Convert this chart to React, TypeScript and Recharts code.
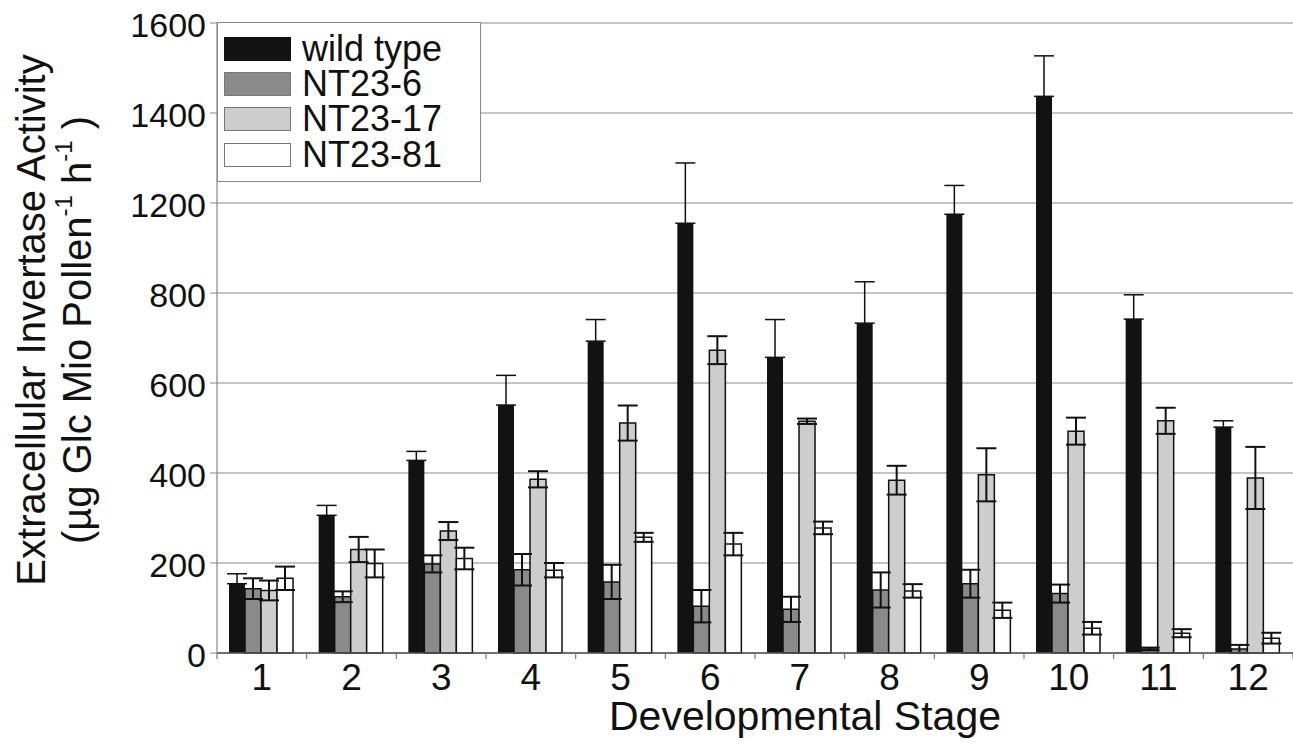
import { Bar, BarChart, CartesianGrid, ErrorBar, Legend, XAxis, YAxis } from 'recharts'

const stages = ['1', '2', '3', '4', '5', '6', '7', '8', '9', '10', '11', '12']
const wildType = [154, 306, 428, 551, 693, 955, 657, 733, 975, 1237, 742, 502]
const wildTypeErr = [22, 22, 20, 66, 48, 134, 84, 92, 64, 90, 54, 14]
const nt236 = [143, 125, 198, 185, 158, 104, 97, 140, 154, 132, 9, 9]
const nt236Err = [23, 12, 19, 35, 38, 36, 28, 39, 31, 20, 3, 9]
const nt2317 = [139, 230, 271, 386, 511, 673, 515, 384, 396, 493, 516, 389]
const nt2317Err = [22, 28, 20, 18, 39, 31, 6, 32, 59, 30, 29, 69]
const nt2381 = [166, 199, 210, 184, 257, 242, 278, 138, 95, 55, 44, 33]
const nt2381Err = [26, 31, 24, 16, 10, 25, 14, 15, 17, 14, 9, 12]

// gridlines are evenly spaced, but the printed labels skip 1000
const yTicks = [0, 200, 400, 600, 800, 1000, 1200, 1400]
const yTickLabels = ['0', '200', '400', '600', '800', '1200', '1400', '1600']

const font = '"Liberation Sans", Arial, Helvetica, sans-serif'

const series = [
  { key: 'wt', err: 'wtErr', name: 'wild type', fill: '#121212', stroke: 'none' },
  { key: 'nt6', err: 'nt6Err', name: 'NT23-6', fill: '#8a8a8a', stroke: '#111' },
  { key: 'nt17', err: 'nt17Err', name: 'NT23-17', fill: '#cdcdcd', stroke: '#111' },
  { key: 'nt81', err: 'nt81Err', name: 'NT23-81', fill: '#ffffff', stroke: '#111' },
]

const data = stages.map((stage, i) => ({
  stage,
  wt: wildType[i],
  // only the upper whisker shows above the black bar
  wtErr: [0, wildTypeErr[i]],
  nt6: nt236[i],
  nt6Err: nt236Err[i],
  nt17: nt2317[i],
  nt17Err: nt2317Err[i],
  nt81: nt2381[i],
  nt81Err: nt2381Err[i],
}))

function StageTick(props: any) {
  const { x, y, payload, index, visibleTicksCount } = props
  const half = payload.offset || 44.8
  return (
    <g>
      <line x1={x - half} x2={x - half} y1={y} y2={y + 6} stroke='#777' strokeWidth={1.2} />
      {index === visibleTicksCount - 1 && (
        <line x1={x + half} x2={x + half} y1={y} y2={y + 6} stroke='#777' strokeWidth={1.2} />
      )}
      <text x={x} y={y + 10} dy='0.72em' textAnchor='middle' fontSize={37} fontFamily={font} fill='#111'>
        {payload.value}
      </text>
    </g>
  )
}

function ValueTick(props: any) {
  const { x, y, payload } = props
  const label = yTickLabels[yTicks.indexOf(payload.value)]
  return (
    <text x={x} y={y + 2} dy='0.355em' textAnchor='end' fontSize={34} fontFamily={font} fill='#111'>
      {label}
    </text>
  )
}

function YTitle(props: any) {
  const { viewBox } = props
  const cy = viewBox.y + viewBox.height / 2 - 18
  return (
    <g fontFamily={font} fill='#111' fontSize={40}>
      <text transform={`translate(31, ${cy}) rotate(-90)`} textAnchor='middle' dominantBaseline='central'>
        Extracellular Invertase Activity
      </text>
      <text transform={`translate(77, ${cy + 10}) rotate(-90)`} textAnchor='middle' dominantBaseline='central'>
        (µg Glc Mio Pollen
        <tspan dy={-14} fontSize={24}>-1</tspan>
        <tspan dy={14}> h</tspan>
        <tspan dy={-14} fontSize={24}>-1</tspan>
        <tspan dy={14}> )</tspan>
      </text>
    </g>
  )
}

function XTitle(props: any) {
  const { viewBox } = props
  return (
    <text
      x={viewBox.x + viewBox.width / 2 + 50}
      y={716}
      textAnchor='middle'
      dominantBaseline='central'
      fontSize={41}
      fontFamily={font}
      fill='#111'
    >
      Developmental Stage
    </text>
  )
}

function LegendBox(props: any) {
  const items = [...(props.payload ?? [])].sort(
    (a: any, b: any) =>
      series.findIndex((s) => s.name === a.value) - series.findIndex((s) => s.name === b.value),
  )
  return (
    <div
      style={{
        width: 264,
        height: 160,
        boxSizing: 'border-box',
        border: '1.5px solid #888',
        background: '#fff',
        padding: '8px 0 0 6px',
      }}
    >
      {items.map((item: any) => {
        const s = series.find((d) => d.name === item.value) ?? series[0]
        return (
          <div key={s.key} style={{ display: 'flex', alignItems: 'center', height: 35.3 }}>
            <span
              style={{
                display: 'inline-block',
                width: 67,
                height: 24,
                boxSizing: 'border-box',
                background: s.fill,
                border: s.stroke === 'none' ? 'none' : '1.5px solid #777',
                marginRight: 11,
              }}
            />
            <span
              style={{
                display: 'block',
                height: 34,
                fontSize: 36,
                lineHeight: '34px',
                fontFamily: font,
                color: '#111',
                whiteSpace: 'nowrap',
              }}
            >
              {item.value}
            </span>
          </div>
        )
      })}
    </div>
  )
}

export default function App() {
  return (
    <div style={{ position: 'absolute', left: 0, top: 0, background: '#fff' }}>
      <BarChart
        width={1293}
        height={745}
        data={data}
        margin={{ top: 23, right: 0, left: 0, bottom: 0 }}
        barCategoryGap='13.4%'
        barGap={0}
      >
        <CartesianGrid vertical={false} stroke='#8a8a8a' strokeWidth={1.2} />
        <XAxis
          dataKey='stage'
          height={92}
          interval={0}
          tickLine={false}
          tickSize={0}
          tickMargin={0}
          axisLine={{ stroke: '#555', strokeWidth: 1.5 }}
          tick={<StageTick />}
          label={<XTitle />}
        />
        <YAxis
          width={217}
          domain={[0, 1400]}
          ticks={yTicks}
          interval={0}
          tickSize={7}
          tickMargin={4}
          tickLine={{ stroke: '#888' }}
          axisLine={{ stroke: '#888', strokeWidth: 1.2 }}
          tick={<ValueTick />}
          label={<YTitle />}
        />
        <Legend
          layout='vertical'
          align='center'
          verticalAlign='middle'
          wrapperStyle={{ left: 217, top: 22, width: 264 }}
          content={<LegendBox />}
        />
        {series.map((s) => (
          <Bar
            key={s.key}
            dataKey={s.key}
            name={s.name}
            fill={s.fill}
            stroke={s.stroke}
            strokeWidth={1.5}
            isAnimationActive={false}
          >
            <ErrorBar dataKey={s.err} width={10} stroke='#111' strokeWidth={s.key === 'wt' ? 1.5 : 2} />
          </Bar>
        ))}
      </BarChart>
    </div>
  )
}
